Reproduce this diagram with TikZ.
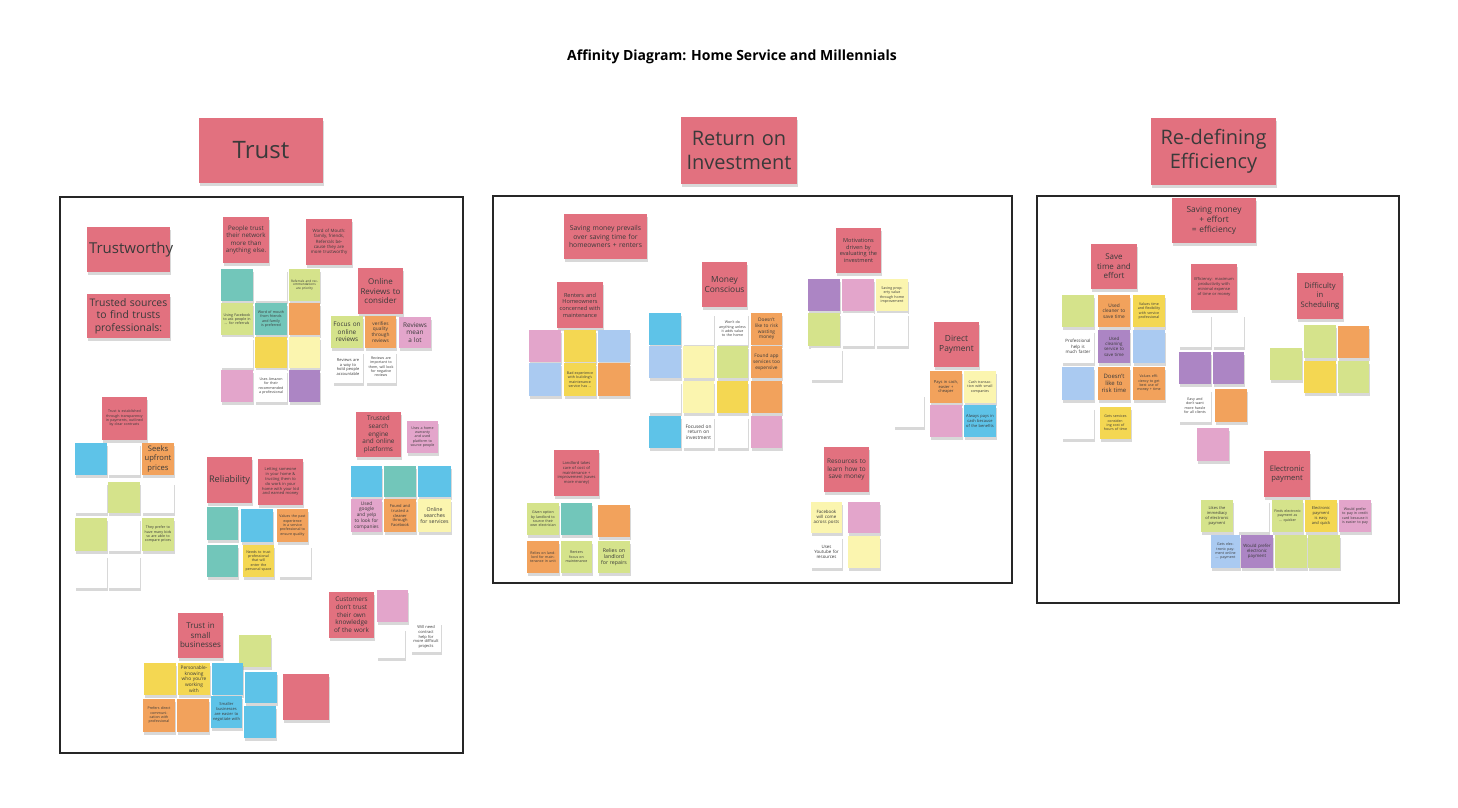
\documentclass[tikz,border=0pt]{standalone}
\usepackage{fontspec}
\setmainfont{Open Sans}
\usetikzlibrary{shadows}
\definecolor{hdr}{HTML}{E2717F}
\definecolor{teal}{HTML}{72C6BA}
\definecolor{grn}{HTML}{D5E38B}
\definecolor{org}{HTML}{F2A25C}
\definecolor{yel}{HTML}{F4D752}
\definecolor{lyel}{HTML}{FBF5AF}
\definecolor{wht}{HTML}{FFFFFF}
\definecolor{pur}{HTML}{AC85C4}
\definecolor{lpnk}{HTML}{E3A5CB}
\definecolor{blu}{HTML}{5EC3E8}
\definecolor{lblu}{HTML}{AACAF1}
\definecolor{ink}{HTML}{3A3A3A}
\tikzset{note/.style={draw=none,inner sep=0pt,align=center,text=ink,
  drop shadow={opacity=0.3,shadow xshift=0.4pt,shadow yshift=-1.3pt}},
  frame/.style={draw=black!85,line width=0.6pt}}
% name, x1, y1, x2, y2, colour, font size (pt), text
\newcommand\sn[8]{%
  \pgfmathsetlengthmacro\snw{(#4-#2)*0.5pt}%
  \pgfmathsetlengthmacro\snh{(#5-#3)*0.5pt}%
  \pgfmathsetlengthmacro\sntw{(#4-#2)*0.5pt-2pt}%
  \pgfmathsetlengthmacro\snbl{#7pt*1.2}%
  \node[note,fill=#6,minimum width=\snw,minimum height=\snh,
  text width=\sntw,font=\fontsize{#7pt}{\snbl}\selectfont] (#1) at ({(#2+#4)/2},{(#3+#5)/2}) {#8};}
\begin{document}
\begin{tikzpicture}[x=0.5pt,y=-0.5pt]
\useasboundingbox[fill=white] (0,0) rectangle (1458,808);
\node[font=\bfseries\fontsize{7pt}{8pt}\selectfont,text=black] (title) at (732,57) {Affinity Diagram: Home Service and Millennials};
\draw[frame] (60,197) rectangle (463,753);
\draw[frame] (493,196) rectangle (1012,583);
\draw[frame] (1037,196) rectangle (1399,603);
\sn{hT}{199}{118}{323}{183}{hdr}{12}{Trust}
\sn{hR}{681}{117}{797}{184}{hdr}{10}{Return on Investment}
\sn{hE}{1151}{118}{1276}{185}{hdr}{10}{Re-defining Efficiency}
% ---------- Trust ----------
\sn{t1}{87}{227}{170}{272}{hdr}{7.5}{Trustworthy}
\sn{t2}{87}{294}{170}{338}{hdr}{5.2}{Trusted sources to find trusts professionals:}
\sn{t3}{223}{217}{269}{263}{hdr}{3.1}{People trust their network more than anything else.}
\sn{t4}{306}{219}{352}{265}{hdr}{2.2}{Word of Mouth: family, friends, Referrals because they are more trustworthy}
\sn{t5}{358}{268}{403}{314}{hdr}{4}{Online Reviews to consider}
\sn{g11}{221}{269}{253}{301}{teal}{1.6}{}
\sn{g12}{255}{269}{287}{301}{wht}{1.6}{}
\sn{g13}{289}{269}{320}{301}{grn}{1.6}{Referrals and recommendations are priority}
\sn{g21}{221}{303}{253}{335}{grn}{1.8}{Using Facebook to ask people in ... for referrals}
\sn{g22}{255}{303}{287}{335}{teal}{1.8}{Word of mouth from friends and family is preferred}
\sn{g23}{289}{303}{320}{335}{org}{1.6}{}
\sn{g31}{221}{337}{253}{368}{wht}{1.6}{}
\sn{g32}{255}{337}{287}{368}{yel}{1.6}{}
\sn{g33}{289}{337}{320}{368}{lyel}{1.6}{}
\sn{g41}{221}{370}{253}{402}{lpnk}{1.6}{}
\sn{g42}{255}{370}{287}{402}{wht}{1.8}{Uses Amazon for their recommended a professional}
\sn{g43}{289}{370}{320}{402}{pur}{1.6}{}
\sn{o1}{331}{316}{363}{348}{grn}{3.2}{Focus on online reviews}
\sn{o2}{365}{316}{396}{348}{org}{2.4}{verifies quality through reviews}
\sn{o3}{399}{317}{431}{348}{lpnk}{3.2}{Reviews mean a lot}
\sn{o4}{333}{351}{363}{383}{wht}{2}{Reviews are a way to hold people accountable}
\sn{o5}{366}{351}{396}{383}{wht}{1.8}{Reviews are important to them, will look for negative reviews}
\sn{p1}{102}{397}{147}{440}{hdr}{1.8}{Trust is established through transparency in payments, outlined by clear contracts}
\sn{p11}{75}{443}{107}{475}{blu}{1.6}{}
\sn{p12}{108}{443}{140}{475}{wht}{1.6}{}
\sn{p13}{142}{443}{174}{475}{org}{3.8}{Seeks upfront prices}
\sn{p21}{75}{482}{107}{513}{wht}{1.6}{}
\sn{p22}{108}{482}{140}{513}{grn}{1.6}{}
\sn{p23}{142}{482}{174}{513}{wht}{1.6}{}
\sn{p31}{75}{518}{107}{551}{grn}{1.6}{}
\sn{p32}{108}{518}{140}{551}{wht}{1.6}{}
\sn{p33}{142}{518}{174}{551}{grn}{1.8}{They prefer to have many bids so are able to compare prices}
\sn{p41}{75}{555}{107}{588}{wht}{1.6}{}
\sn{p42}{108}{555}{140}{588}{wht}{1.6}{}
\sn{r1}{207}{457}{252}{503}{hdr}{4.6}{Reliability}
\sn{r2}{258}{459}{303}{505}{hdr}{2}{Letting someone in your home \& trusting them to do work in your home with your kid and earned money}
\sn{r11}{207}{507}{238}{540}{teal}{1.6}{}
\sn{r12}{241}{509}{273}{542}{blu}{1.6}{}
\sn{r13}{277}{509}{308}{542}{org}{1.8}{Values the past experience in a service professional to ensure quality}
\sn{r21}{207}{545}{238}{577}{teal}{1.6}{}
\sn{r22}{243}{545}{274}{577}{yel}{1.8}{Needs to trust professional that will enter the personal space}
\sn{r23}{279}{545}{311}{577}{wht}{1.6}{}
\sn{s1}{356}{412}{401}{457}{hdr}{3.2}{Trusted search engine and online platforms}
\sn{s2}{407}{421}{438}{453}{lpnk}{1.8}{Uses a home warranty and used platform to source people}
\sn{s11}{351}{466}{382}{497}{blu}{1.6}{}
\sn{s12}{384}{466}{416}{497}{teal}{1.6}{}
\sn{s13}{418}{466}{451}{497}{blu}{1.6}{}
\sn{s21}{351}{499}{382}{532}{lpnk}{2.4}{Used google and yelp to look for companies}
\sn{s22}{384}{499}{416}{532}{org}{2}{Found and trusted a cleaner through Facebook}
\sn{s23}{418}{499}{451}{532}{lyel}{2.6}{Online searches for services}
\sn{c1}{329}{592}{374}{638}{hdr}{3.2}{Customers don't trust their own knowledge of the work}
\sn{c2}{377}{590}{408}{622}{lpnk}{1.6}{}
\sn{c3}{377}{628}{405}{658}{wht}{1.6}{}
\sn{c4}{411}{622}{441}{652}{wht}{2}{Will need contract help for more difficult projects}
\sn{b1}{178}{613}{223}{658}{hdr}{4}{Trust in small businesses}
\sn{b2}{239}{635}{271}{667}{grn}{1.6}{}
\sn{b11}{144}{663}{176}{695}{yel}{1.6}{}
\sn{b12}{178}{663}{210}{695}{yel}{2.4}{Personable-knowing who you're working with}
\sn{b13}{212}{663}{243}{695}{blu}{1.6}{}
\sn{b14}{245}{672}{277}{703}{blu}{1.6}{}
\sn{b21}{143}{699}{175}{732}{org}{1.8}{Prefers direct communication with professional}
\sn{b22}{177}{699}{209}{732}{org}{1.6}{}
\sn{b23}{211}{696}{242}{728}{blu}{2}{Smaller businesses are easier to negotiate with}
\sn{b24}{244}{706}{276}{738}{blu}{1.6}{}
\sn{b3}{283}{674}{329}{720}{hdr}{1.6}{}
% ---------- ROI ----------
\sn{m1}{564}{214}{647}{259}{hdr}{3.4}{Saving money prevails over saving time for homeowners + renters}
\sn{m2}{557}{282}{603}{328}{hdr}{2.8}{Renters and Homeowners concerned with maintenance}
\sn{m11}{529}{330}{561}{362}{lpnk}{1.6}{}
\sn{m12}{564}{330}{596}{362}{yel}{1.6}{}
\sn{m13}{598}{330}{630}{362}{lblu}{1.6}{}
\sn{m21}{529}{363}{561}{396}{lblu}{1.6}{}
\sn{m22}{564}{363}{596}{396}{yel}{1.8}{Bad experience with building's maintenance service has ...}
\sn{m23}{598}{363}{630}{396}{org}{1.6}{}
\sn{l1}{554}{450}{599}{496}{hdr}{2}{Landlord takes care of cost of maintenance + improvement (saves more money)}
\sn{l11}{527}{503}{559}{535}{grn}{1.8}{Given option by landlord to source their own electrician}
\sn{l12}{561}{503}{592}{535}{teal}{1.6}{}
\sn{l13}{598}{505}{630}{537}{org}{1.6}{}
\sn{l21}{527}{541}{559}{573}{org}{1.8}{Relies on landlord for maintenance in unit}
\sn{l22}{561}{541}{592}{573}{grn}{1.8}{Renters focus on maintenance}
\sn{l23}{598}{541}{630}{573}{grn}{2.6}{Relies on landlord for repairs}
\sn{mc}{702}{262}{747}{307}{hdr}{4.2}{Money Conscious}
\sn{a11}{649}{313}{681}{345}{blu}{1.6}{}
\sn{a12}{683}{313}{714}{345}{wht}{1.6}{}
\sn{a13}{717}{313}{748}{345}{wht}{1.8}{Won't do anything unless it adds value to the home}
\sn{a14}{751}{313}{782}{345}{org}{2.4}{Doesn't like to risk wasting money}
\sn{a21}{649}{346}{681}{378}{lblu}{1.6}{}
\sn{a22}{683}{346}{714}{378}{lyel}{1.6}{}
\sn{a23}{717}{346}{748}{378}{grn}{1.6}{}
\sn{a24}{751}{346}{782}{378}{org}{2.4}{Found app services too expensive}
\sn{a31}{649}{381}{681}{413}{wht}{1.6}{}
\sn{a32}{683}{381}{714}{413}{lyel}{1.6}{}
\sn{a33}{717}{381}{748}{413}{yel}{1.6}{}
\sn{a34}{751}{381}{782}{413}{org}{1.6}{}
\sn{a41}{649}{416}{681}{448}{blu}{1.6}{}
\sn{a42}{683}{416}{714}{448}{wht}{2.4}{Focused on return on investment}
\sn{a43}{717}{416}{748}{448}{wht}{1.6}{}
\sn{a44}{751}{416}{782}{448}{lpnk}{1.6}{}
\sn{v1}{836}{228}{881}{273}{hdr}{2.8}{Motivations driven by evaluating the investment}
\sn{v11}{808}{279}{840}{311}{pur}{1.6}{}
\sn{v12}{842}{279}{874}{311}{lpnk}{1.6}{}
\sn{v13}{876}{279}{908}{311}{lyel}{1.8}{Saving property value through home improvement}
\sn{v21}{808}{313}{840}{346}{grn}{1.6}{}
\sn{v22}{842}{313}{874}{346}{wht}{1.6}{}
\sn{v23}{876}{313}{908}{346}{wht}{1.6}{}
\sn{v31}{811}{348}{842}{380}{wht}{1.6}{}
\sn{d1}{934}{322}{979}{367}{hdr}{4.2}{Direct Payment}
\sn{d11}{930}{371}{962}{403}{org}{2}{Pays in cash, easier + cheaper}
\sn{d12}{964}{371}{996}{403}{lyel}{1.8}{Cash transaction with small companies}
\sn{d21}{930}{405}{962}{437}{lpnk}{1.6}{}
\sn{d22}{964}{405}{996}{437}{blu}{2}{Always pays in cash because of the benefits}
\sn{d3}{894}{394}{924}{427}{wht}{1.6}{}
\sn{e1}{824}{447}{869}{492}{hdr}{3.2}{Resources to learn how to save money}
\sn{e11}{811}{502}{842}{533}{lyel}{2.2}{Facebook will come across posts}
\sn{e12}{848}{502}{880}{533}{lpnk}{1.6}{}
\sn{e21}{811}{536}{842}{568}{wht}{2.2}{Uses Youtube for resources}
\sn{e22}{848}{536}{880}{568}{lyel}{1.6}{}
% ---------- Efficiency ----------
\sn{f1}{1172}{198}{1256}{243}{hdr}{4.2}{Saving money\\+ effort\\= efficiency}
\sn{f2}{1091}{244}{1137}{289}{hdr}{4}{Save\\time and\\effort}
\sn{f11}{1062}{295}{1094}{327}{grn}{1.6}{}
\sn{f12}{1098}{295}{1130}{327}{org}{2.4}{Used cleaner to save time}
\sn{f13}{1133}{295}{1165}{327}{yel}{1.8}{Values time and flexibility with service professional}
\sn{f21}{1062}{330}{1094}{363}{wht}{2.2}{Professional help is much faster}
\sn{f22}{1098}{330}{1130}{363}{pur}{2.2}{Used cleaning service to save time}
\sn{f23}{1133}{330}{1165}{363}{lblu}{1.6}{}
\sn{f31}{1062}{367}{1094}{400}{lblu}{1.6}{}
\sn{f32}{1098}{367}{1130}{400}{org}{3}{Doesn't like to risk time}
\sn{f33}{1133}{367}{1165}{400}{org}{1.8}{Values efficiency to get best use of money + time}
\sn{f41}{1062}{407}{1094}{439}{wht}{1.6}{}
\sn{f42}{1100}{407}{1131}{439}{yel}{1.8}{Gets services considering cost of hours of time}
\sn{q1}{1191}{264}{1237}{310}{hdr}{2}{Efficiency: maximum productivity with minimal expense of time or money}
\sn{q11}{1179}{314}{1211}{347}{wht}{1.6}{}
\sn{q12}{1213}{314}{1244}{347}{wht}{1.6}{}
\sn{q21}{1179}{352}{1211}{384}{pur}{1.6}{}
\sn{q22}{1213}{352}{1244}{384}{pur}{1.6}{}
\sn{q31}{1179}{389}{1211}{422}{wht}{1.8}{Easy and don't want more hassle for all clients}
\sn{q32}{1215}{389}{1247}{422}{org}{1.6}{}
\sn{q4}{1197}{428}{1229}{461}{lpnk}{1.6}{}
\sn{h1}{1297}{273}{1343}{319}{hdr}{3.8}{Difficulty\\in\\Scheduling}
\sn{h11}{1270}{348}{1302}{380}{grn}{1.6}{}
\sn{h12}{1304}{325}{1336}{358}{grn}{1.6}{}
\sn{h13}{1338}{326}{1369}{358}{org}{1.6}{}
\sn{h21}{1304}{361}{1336}{393}{yel}{1.6}{}
\sn{h22}{1338}{361}{1369}{393}{grn}{1.6}{}
\sn{k1}{1264}{451}{1310}{497}{hdr}{3.8}{Electronic payment}
\sn{k11}{1201}{500}{1233}{532}{grn}{2}{Likes the immediacy of electronic payment}
\sn{k12}{1238}{500}{1269}{532}{wht}{1.6}{}
\sn{k13}{1272}{500}{1303}{532}{grn}{1.8}{Finds electronic payment as ... quicker}
\sn{k14}{1305}{500}{1337}{532}{yel}{2}{Electronic payment is easy and quick}
\sn{k15}{1339}{500}{1371}{532}{lpnk}{1.8}{Would prefer to pay in credit card because it is easier to pay}
\sn{k21}{1211}{535}{1240}{568}{lblu}{1.8}{Gets electronic payment online ... payment}
\sn{k22}{1241}{535}{1273}{568}{pur}{2.2}{Would prefer electronic payment}
\sn{k23}{1275}{535}{1307}{568}{grn}{1.6}{}
\sn{k24}{1308}{535}{1340}{568}{grn}{1.6}{}
\end{tikzpicture}
\end{document}
